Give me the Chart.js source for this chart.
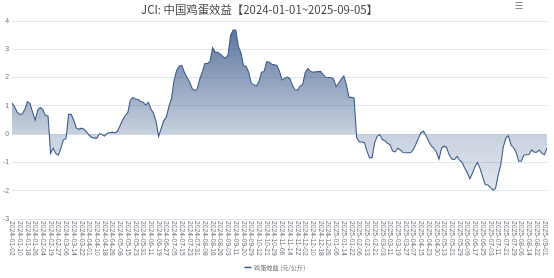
<!DOCTYPE html>
<html><head><meta charset="utf-8">
<script src="https://cdn.jsdelivr.net/npm/chart.js@4/dist/chart.umd.min.js"></script>
<style>html,body{margin:0;padding:0;background:#fff}#wrap{width:554px;height:278px}</style>
</head><body><div id="wrap"><canvas id="c" width="554" height="278"></canvas></div>
<script>
const chartTitle = 'JCI: 中国鸡蛋效益【2024-01-01~2025-09-05】';
const seriesName = '鸡蛋效益 (元/公斤)';
// tick labels (every 6th trading day)
const tickLabels = [
 '2024-01-02','2024-01-10','2024-01-18','2024-01-26','2024-02-04','2024-02-19','2024-02-27','2024-03-06','2024-03-14','2024-03-22',
 '2024-04-01','2024-04-10','2024-04-18','2024-04-26','2024-05-08','2024-05-15','2024-05-23','2024-05-31','2024-06-11','2024-06-19',
 '2024-06-27','2024-07-05','2024-07-15','2024-07-23','2024-07-31','2024-08-08','2024-08-16','2024-08-26','2024-09-03','2024-09-11',
 '2024-09-20','2024-09-29','2024-10-12','2024-10-21','2024-10-29','2024-11-06','2024-11-14','2024-11-22','2024-12-02','2024-12-10',
 '2024-12-18','2024-12-26','2025-01-06','2025-01-14','2025-01-22','2025-02-06','2025-02-13','2025-02-21','2025-03-03','2025-03-11',
 '2025-03-19','2025-03-27','2025-04-07','2025-04-15','2025-04-23','2025-04-30','2025-05-13','2025-05-21','2025-05-29','2025-06-09',
 '2025-06-17','2025-06-25','2025-07-03','2025-07-11','2025-07-21','2025-07-29','2025-08-06','2025-08-14','2025-08-22','2025-09-01'
];
const samplesPerTick = 3; // one value every 2 trading days
// 鸡蛋效益 values (元/公斤)
const effValues = [
 1.10,0.97,0.78,0.70,0.71,0.88,1.15,1.08,0.78,0.49,
 0.85,0.94,0.87,0.66,0.64,-0.68,-0.50,-0.68,-0.74,-0.50,
 -0.20,-0.16,0.70,0.70,0.50,0.22,0.17,0.21,0.17,0.08,
 -0.04,-0.12,-0.14,-0.14,0.02,-0.01,-0.07,0.03,0.05,0.07,
 0.04,0.10,0.30,0.50,0.66,0.75,1.20,1.30,1.24,1.23,
 1.15,1.13,1.03,1.13,0.90,0.74,0.45,-0.08,0.20,0.48,
 0.60,0.98,1.25,1.90,2.25,2.40,2.43,2.20,2.01,1.85,
 1.62,1.54,1.59,1.95,2.20,2.50,2.50,2.58,3.05,2.90,
 2.89,2.83,2.75,2.68,2.80,3.50,3.68,3.68,3.10,2.88,
 2.42,2.40,2.20,1.80,1.75,1.70,1.85,2.19,2.21,2.56,
 2.55,2.47,2.45,2.43,2.22,1.92,1.98,2.02,1.97,1.74,
 1.56,1.56,1.70,1.76,2.18,2.32,2.22,2.19,2.20,2.21,
 2.22,2.10,2.01,2.00,2.00,1.95,1.68,1.80,1.95,2.06,
 1.75,1.30,1.30,1.28,-0.12,-0.28,-0.28,-0.30,-0.60,-0.83,
 -0.83,-0.30,-0.08,-0.02,-0.19,-0.24,-0.32,-0.38,-0.60,-0.63,
 -0.50,-0.56,-0.65,-0.66,-0.66,-0.66,-0.55,-0.36,-0.15,0.05,
 0.11,-0.07,-0.25,-0.42,-0.50,-0.64,-0.88,-0.50,-0.42,-0.48,
 -0.74,-0.88,-0.90,-0.79,-0.92,-1.00,-1.20,-1.36,-1.58,-1.38,
 -1.15,-1.00,-1.22,-1.52,-1.78,-1.80,-1.88,-1.98,-1.92,-1.45,
 -1.10,-0.46,-0.14,-0.06,-0.38,-0.48,-0.64,-0.96,-0.96,-0.74,
 -0.73,-0.72,-0.56,-0.64,-0.64,-0.56,-0.68,-0.73,-0.50
];
const yMin = -3, yMax = 4, yStep = 1;

const categories = effValues.map((_, k) => k % samplesPerTick === 0 ? (tickLabels[k / samplesPerTick] || '') : '');

const LINE = '#3d5d8e';
const AXIS_TXT = '#6e7079';

function areaFill(context) {
  const chart = context.chart;
  const area = chart.chartArea;
  if (!area) return 'rgba(61,93,142,0.3)';
  const c = chart.ctx;
  const y = chart.scales.y;
  const g = c.createLinearGradient(0, area.top, 0, area.bottom);
  const zeroStop = Math.min(1, Math.max(0, (y.getPixelForValue(0) - area.top) / (area.bottom - area.top)));
  g.addColorStop(0, 'rgba(52,84,134,0.84)');
  g.addColorStop(zeroStop, 'rgba(52,84,134,0.27)');
  g.addColorStop(1, 'rgba(52,84,134,0.08)');
  return g;
}

const decor = {
  id: 'decor',
  afterDraw(chart) {
    const c = chart.ctx;
    const xs = chart.scales.x;
    const area = chart.chartArea;
    c.save();
    // x tick labels, rotated to read top-to-bottom
    c.fillStyle = AXIS_TXT;
    c.font = '6.8px "Liberation Sans", Arial, sans-serif';
    c.textAlign = 'left';
    c.textBaseline = 'middle';
    tickLabels.forEach((lab, j) => {
      const x = xs.getPixelForValue(j * samplesPerTick);
      c.save();
      c.translate(x, area.bottom + 2);
      c.rotate(Math.PI / 2);
      c.fillText(lab, 0, 0);
      c.restore();
    });
    // title
    c.fillStyle = '#464646';
    c.font = '11.4px "Noto Sans CJK SC", sans-serif';
    c.textAlign = 'center';
    c.textBaseline = 'middle';
    c.fillText(chartTitle, 259.5, 10);
    // menu icon
    c.strokeStyle = '#8a8a8a';
    c.lineWidth = 1;
    [2.5, 5.5, 8.5].forEach(yy => { c.beginPath(); c.moveTo(515.5, yy); c.lineTo(522.5, yy); c.stroke(); });
    // legend
    const ds = chart.data.datasets[0];
    c.strokeStyle = ds.borderColor;
    c.lineWidth = 1.5;
    c.beginPath(); c.moveTo(244.5, 267.5); c.lineTo(251.5, 267.5); c.stroke();
    c.fillStyle = '#666';
    c.font = '6.2px "Noto Sans CJK SC", sans-serif';
    c.textAlign = 'left';
    c.textBaseline = 'middle';
    c.fillText(ds.label, 254, 267.5);
    c.restore();
  }
};

new Chart(document.getElementById('c').getContext('2d'), {
  type: 'line',
  data: {
    labels: categories,
    datasets: [{
      label: seriesName,
      data: effValues,
      borderColor: LINE,
      borderWidth: 1.1,
      pointRadius: 0,
      tension: 0,
      fill: 'origin',
      backgroundColor: areaFill
    }]
  },
  options: {
    responsive: false,
    animation: false,
    devicePixelRatio: 1,
    layout: { padding: { top: 21, right: 7, bottom: 0, left: 0 } },
    plugins: { legend: { display: false }, tooltip: { enabled: false }, title: { display: false } },
    scales: {
      x: {
        type: 'category',
        grid: { display: false },
        border: { display: false },
        ticks: { display: false, autoSkip: false },
        afterFit(s) { s.height = 59; }
      },
      y: {
        min: yMin, max: yMax,
        ticks: { stepSize: yStep, color: AXIS_TXT, padding: 3, font: { size: 6.8, family: '"Liberation Sans", Arial, sans-serif' } },
        grid: { color: '#e0e6f1', drawTicks: false, lineWidth: 1 },
        border: { display: false },
        afterFit(s) { s.width = 12; }
      }
    }
  },
  plugins: [decor]
});
</script>
</body></html>
